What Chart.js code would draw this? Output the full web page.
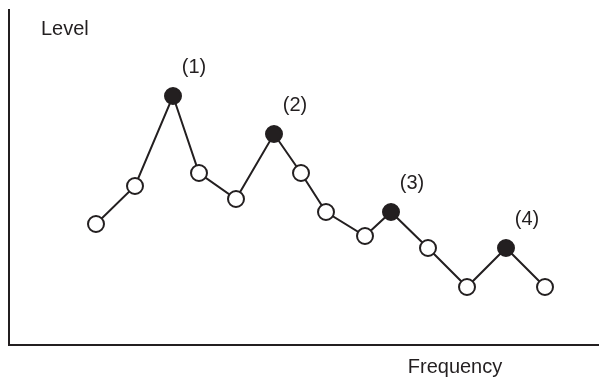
<!DOCTYPE html>
<html>
<head>
<script src="https://cdn.jsdelivr.net/npm/chart.js@4.4.1/dist/chart.umd.min.js"></script>
<style>
    body { margin: 0; background: #ffffff; }
    .chart-wrapper { width: 599px; height: 379px; }
</style>
</head>
<body>
<div class="chart-wrapper">
    <canvas id="chart1" width="599" height="379"></canvas>
</div>
<script>
    // frequency positions and levels
    var freq  = [8.7, 12.6, 16.4, 19.0, 22.7, 26.5, 29.2, 31.7, 35.6, 38.2, 41.9, 45.8, 49.7, 53.6];
    var level = [12.1, 15.9, 24.9, 17.2, 14.6, 21.1, 17.2, 13.3, 10.9, 13.3, 9.7, 5.8, 9.7, 5.8];
    // which points are the marked peaks
    var peakIdx = [2, 5, 9, 12];
    var peakLabels = ["(1)", "(2)", "(3)", "(4)"];
    var xTitle = "Frequency";
    var yTitle = "Level";

    var ink = '#231f20';
    var pts = freq.map(function (f, i) { return { x: f, y: level[i] }; });
    var fills = freq.map(function (f, i) { return peakIdx.indexOf(i) >= 0 ? ink : '#ffffff'; });

    var labelPlugin = {
        id: 'labels',
        afterDatasetsDraw: function (chart) {
            var ctx = chart.ctx;
            var area = chart.chartArea;
            var meta = chart.getDatasetMeta(0);
            ctx.save();
            ctx.fillStyle = ink;
            ctx.font = '20px "Liberation Sans", Arial, sans-serif';
            ctx.textBaseline = 'middle';
            ctx.textAlign = 'center';
            peakIdx.forEach(function (idx, k) {
                var p = meta.data[idx];
                ctx.fillText(peakLabels[k], p.x + 21, p.y - 29);
            });
            ctx.textBaseline = 'alphabetic';
            ctx.textAlign = 'left';
            ctx.fillText(yTitle, area.left + 32, area.top + 25);
            ctx.textAlign = 'center';
            ctx.fillText(xTitle, area.left + 446, area.bottom + 28);
            ctx.restore();
        }
    };

    var chrt1 = document.getElementById("chart1").getContext("2d");
    var chartId1 = new Chart(chrt1, {
        type: 'scatter',
        data: {
            datasets: [{
                data: pts,
                showLine: true,
                borderColor: ink,
                borderWidth: 2,
                pointRadius: 8,
                pointBorderWidth: 2,
                pointBorderColor: ink,
                pointBackgroundColor: fills
            }]
        },
        options: {
            responsive: false,
            animation: false,
            layout: { autoPadding: false, padding: { left: 1, top: 10, right: 0, bottom: 26 } },
            plugins: {
                legend: { display: false },
                tooltip: { enabled: false }
            },
            scales: {
                x: {
                    min: 0, max: 59,
                    grid: { display: false },
                    ticks: { display: false },
                    border: { display: true, color: ink, width: 2 }
                },
                y: {
                    min: 0, max: 33.5,
                    grid: { display: false },
                    ticks: { display: false },
                    border: { display: true, color: ink, width: 2 }
                }
            }
        },
        plugins: [labelPlugin]
    });
</script>
</body>
</html>
